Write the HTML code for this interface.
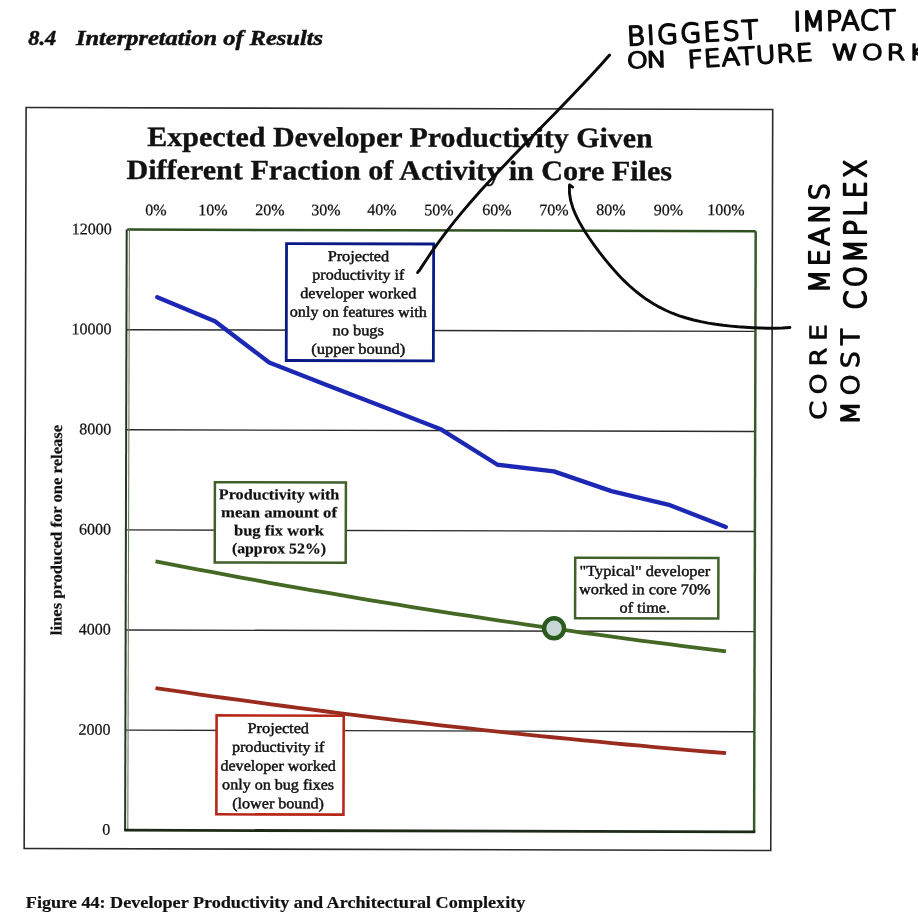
<!DOCTYPE html>
<html><head><meta charset="utf-8"><title>Figure 44: Developer Productivity and Architectural Complexity</title>
<style>
html,body{margin:0;padding:0;background:#fff;}
body{width:918px;height:917px;overflow:hidden;}
svg{display:block;filter:blur(0.4px);}
.serif{font-family:'Liberation Serif', 'Times New Roman', serif;}
.hand{font-family:'DejaVu Sans', 'Liberation Sans', sans-serif;font-weight:200;fill:#0a0a0a;stroke:#0a0a0a;stroke-width:2.1px;stroke-linejoin:round;stroke-linecap:round;}
.emb{stroke:#111;stroke-width:0.45px;}
.lab{stroke:#111;stroke-width:0.25px;}
.embh{stroke:#111;stroke-width:0.5px;}
.embb{stroke:#111;stroke-width:0.2px;}
.embt{stroke:#111;stroke-width:0.35px;}
</style></head><body>
<svg width="918" height="917" viewBox="0 0 918 917">
<rect x="0" y="0" width="918" height="917" fill="#fff"/>
<g class="serif embh" fill="#111" font-weight="bold" font-style="italic" font-size="21">
<text x="28.2" y="45" textLength="28" lengthAdjust="spacingAndGlyphs">8.4</text>
<text x="76" y="45" textLength="247" lengthAdjust="spacingAndGlyphs">Interpretation of Results</text>
</g>
<g transform="rotate(0.1501 400 530)">
<rect x="25.0" y="108.5" width="746.6" height="741" fill="none" stroke="#2a2a2a" stroke-width="1.6"/>
<g class="serif embt" fill="#111" font-weight="bold" font-size="28">
<text x="146.3" y="146.6" textLength="505.4" lengthAdjust="spacingAndGlyphs">Expected Developer Productivity Given</text>
<text x="125.5" y="179.7" textLength="545.6" lengthAdjust="spacingAndGlyphs">Different Fraction of Activity in Core Files</text>
</g>
<g class="serif lab" fill="#111" font-size="16" text-anchor="middle">
<text x="155.2" y="215.8">0%</text>
<text x="212.2" y="215.7">10%</text>
<text x="269.2" y="215.5">20%</text>
<text x="325.2" y="215.4">30%</text>
<text x="381.2" y="215.2">40%</text>
<text x="438.2" y="215.1">50%</text>
<text x="496.2" y="214.9">60%</text>
<text x="553.2" y="214.8">70%</text>
<text x="610.2" y="214.6">80%</text>
<text x="667.7" y="214.5">90%</text>
<text x="725.2" y="214.3">100%</text>
</g>
<g class="serif lab" fill="#111" font-size="16" text-anchor="end">
<text x="111" y="835.6">0</text>
<text x="111" y="735.5">2000</text>
<text x="111" y="635.4">4000</text>
<text x="111" y="535.3">6000</text>
<text x="111" y="435.2">8000</text>
<text x="111" y="335.1">10000</text>
<text x="111" y="235.0">12000</text>
</g>
<text class="serif embb" fill="#111" font-weight="bold" font-size="16" transform="translate(61.8 636.1) rotate(-90)" textLength="210.4" lengthAdjust="spacingAndGlyphs">lines produced for one release</text>
<g stroke="#2c2c2c" stroke-width="1.4">
<line x1="126.4" y1="730.8" x2="754.9" y2="730.8"/>
<line x1="126.4" y1="630.7" x2="754.9" y2="630.7"/>
<line x1="126.4" y1="530.6" x2="754.9" y2="530.6"/>
<line x1="126.4" y1="430.5" x2="754.9" y2="430.5"/>
<line x1="126.4" y1="330.4" x2="754.9" y2="330.4"/>
</g>
<line x1="126.4" y1="230.3" x2="754.9" y2="230.3" stroke="#2f5020" stroke-width="2.5"/>
<line x1="754.9" y1="230.3" x2="754.9" y2="830.9" stroke="#385a28" stroke-width="2.5"/>
<line x1="125.9" y1="230.3" x2="125.9" y2="830.9" stroke="#243824" stroke-width="2"/>
<line x1="128.6" y1="230.3" x2="128.6" y2="830.9" stroke="#6a7f60" stroke-width="1.1"/>
<line x1="124.9" y1="830.9" x2="756.1" y2="830.9" stroke="#1e2a18" stroke-width="2.8"/>
<polyline points="156.7,297.8 214.4,321.7 268.7,362.8 325.6,385.0 382.7,406.9 441.1,429.5 497.4,464.5 553.7,471.0 611.3,490.6 670.0,504.5 725.8,526.2" fill="none" stroke="#1c28b4" stroke-width="4.3" stroke-linejoin="round" stroke-linecap="round"/>
<polyline points="155.6,562.0 169.9,564.7 184.1,567.4 198.4,570.1 212.7,572.7 226.9,575.4 241.2,578.0 255.5,580.5 269.7,583.1 284.0,585.6 298.3,588.1 312.5,590.5 326.8,592.9 341.1,595.4 355.3,597.7 369.6,600.1 383.9,602.4 398.1,604.7 412.4,607.0 426.7,609.2 441.0,611.5 455.2,613.7 469.5,615.8 483.8,618.0 498.0,620.1 512.3,622.2 526.6,624.3 540.8,626.3 555.1,628.3 569.4,630.3 583.6,632.3 597.9,634.2 612.2,636.1 626.4,638.0 640.7,639.9 655.0,641.7 669.2,643.5 683.5,645.3 697.8,647.0 712.1,648.8 726.3,650.5" fill="none" stroke="#456824" stroke-width="3.8" stroke-linejoin="round" stroke-linecap="butt"/>
<polyline points="155.9,688.7 170.2,690.8 184.4,692.8 198.7,694.8 213.0,696.8 227.2,698.7 241.5,700.6 255.8,702.5 270.0,704.4 284.3,706.3 298.6,708.1 312.8,709.9 327.1,711.7 341.4,713.5 355.6,715.2 369.9,716.9 384.2,718.6 398.4,720.3 412.7,721.9 427.0,723.6 441.2,725.2 455.5,726.7 469.8,728.3 484.0,729.8 498.3,731.3 512.6,732.8 526.9,734.3 541.1,735.7 555.4,737.1 569.7,738.5 583.9,739.9 598.2,741.2 612.5,742.6 626.7,743.9 641.0,745.1 655.3,746.4 669.5,747.6 683.8,748.8 698.1,750.0 712.3,751.2 726.6,752.3" fill="none" stroke="#9a2b1f" stroke-width="3.8" stroke-linejoin="round" stroke-linecap="butt"/>
<circle cx="554.3" cy="627.9" r="10" fill="#c8d6d6" stroke="#2b5a1e" stroke-width="4.4"/>
<rect x="285.8" y="243.9" width="147.1" height="116.9" fill="#fff" stroke="#0a1a85" stroke-width="2.8"/>
<rect x="214.8" y="482.7" width="131.0" height="80.2" fill="#fff" stroke="#40602a" stroke-width="2.5"/>
<rect x="575.3" y="557.2" width="143.2" height="60.5" fill="#fff" stroke="#40602a" stroke-width="2.5"/>
<rect x="217.1" y="715.9" width="127.1" height="98.9" fill="#fff" stroke="#b82818" stroke-width="2.6"/>
<g class="serif emb" fill="#111" font-size="15" text-anchor="middle">
<text x="357.7" y="261.2" textLength="61.5" lengthAdjust="spacingAndGlyphs">Projected</text>
<text x="357.7" y="279.8" textLength="92" lengthAdjust="spacingAndGlyphs">productivity if</text>
<text x="357.7" y="298.3" textLength="116" lengthAdjust="spacingAndGlyphs">developer worked</text>
<text x="357.7" y="316.9" textLength="137" lengthAdjust="spacingAndGlyphs">only on features with</text>
<text x="357.7" y="335.4" textLength="51.5" lengthAdjust="spacingAndGlyphs">no bugs</text>
<text x="357.7" y="353.9" textLength="94" lengthAdjust="spacingAndGlyphs">(upper bound)</text>
</g>
<g class="serif embb" fill="#111" font-size="15" font-weight="bold" text-anchor="middle">
<text x="279.0" y="499.8" textLength="120.5" lengthAdjust="spacingAndGlyphs">Productivity with</text>
<text x="279.0" y="517.8" textLength="116" lengthAdjust="spacingAndGlyphs">mean amount of</text>
<text x="279.0" y="535.8" textLength="90" lengthAdjust="spacingAndGlyphs">bug fix work</text>
<text x="279.0" y="553.8" textLength="94" lengthAdjust="spacingAndGlyphs">(approx 52%)</text>
</g>
<g class="serif emb" fill="#111" font-size="15" text-anchor="middle">
<text x="645.0" y="575.3" textLength="130.8" lengthAdjust="spacingAndGlyphs">&quot;Typical&quot; developer</text>
<text x="645.0" y="593.6" textLength="131.5" lengthAdjust="spacingAndGlyphs">worked in core 70%</text>
<text x="645.0" y="611.9" textLength="50.5" lengthAdjust="spacingAndGlyphs">of time.</text>
</g>
<g class="serif emb" fill="#111" font-size="15" text-anchor="middle">
<text x="278.8" y="733.4" textLength="61.5" lengthAdjust="spacingAndGlyphs">Projected</text>
<text x="278.8" y="752.2" textLength="92.5" lengthAdjust="spacingAndGlyphs">productivity if</text>
<text x="278.8" y="771.0" textLength="115.4" lengthAdjust="spacingAndGlyphs">developer worked</text>
<text x="278.8" y="789.8" textLength="112" lengthAdjust="spacingAndGlyphs">only on bug fixes</text>
<text x="278.8" y="808.6" textLength="91.7" lengthAdjust="spacingAndGlyphs">(lower bound)</text>
</g>
</g>
<text class="serif embb" fill="#111" font-weight="bold" font-size="17" x="25.8" y="908.2" textLength="499.5" lengthAdjust="spacingAndGlyphs">Figure 44: Developer Productivity and Architectural Complexity</text>
<g fill="none" stroke="#0a0a0a" stroke-width="2.9" stroke-linecap="round" stroke-linejoin="round">
<path d="M417.6,272.6 Q418,271.2 419.1,270.8 C421.4,267.5 427.7,257.7 432.2,251.2 C436.7,244.7 441.5,238.1 446.5,231.6 C451.5,225.1 456.8,218.4 462.3,211.9 C467.8,205.4 473.5,198.8 479.3,192.3 C485.1,185.8 491.3,179.2 497.4,172.7 C503.5,166.2 509.8,159.6 516.1,153.1 C522.4,146.6 528.8,140.0 535.2,133.5 C541.6,127.0 548.0,120.5 554.4,113.9 C560.8,107.4 567.1,100.8 573.4,94.2 C579.7,87.7 586.0,81.1 592.0,74.6 C598.0,68.1 606.7,58.3 609.6,55.0"/>
<path d="M572.6,187.2 L569.6,184.9 L569.4,185.2 569.5,193.2 570.7,200.7 572.8,207.7 575.5,214.4 578.7,220.9 582.3,227.2 586.2,233.5 590.4,239.7 594.7,245.8 599.2,251.9 603.8,257.8 608.6,263.7 613.5,269.4 618.5,275.0 623.8,280.4 629.1,285.5 634.7,290.4 640.5,295.0 646.4,299.3 652.6,303.3 659.0,306.9 665.6,310.2 672.3,313.2 679.3,315.8 686.4,318.0 693.6,320.0 700.9,321.7 708.3,323.1 715.7,324.3 723.2,325.3 730.6,326.1 738.1,326.8 745.5,327.3 752.8,327.7 760.1,328.0 767.4,328.2 774.8,328.2 782.3,328.0 789.9,327.5"/>
</g>
<g class="hand" font-size="27">
<text transform="translate(627.5 45.5) rotate(-3.0) scale(1 0.964)" textLength="131.5" lengthAdjust="spacing">BIGGEST</text>
<text transform="translate(793.5 31.0) rotate(-1.0) scale(1 0.990)" textLength="102.5" lengthAdjust="spacing">IMPACT</text>
<text transform="translate(627.0 68.3) rotate(-2.0) scale(1 0.812)" textLength="40.0" lengthAdjust="spacing">ON</text>
<text transform="translate(688.0 68.0) rotate(-3.5) scale(1 0.888)" textLength="125.5" lengthAdjust="spacing">FEATURE</text>
<text transform="translate(831.5 59.5) rotate(0.0) scale(1 0.787)" textLength="95.0" lengthAdjust="spacing">WORK</text>
<text transform="translate(825.9 420.0) rotate(-90) scale(1 0.812)" textLength="96.0" lengthAdjust="spacing">CORE</text>
<text transform="translate(828.9 293.0) rotate(-90) scale(1 1.015)" textLength="110.0" lengthAdjust="spacing">MEANS</text>
<text transform="translate(859.4 424.7) rotate(-90) scale(1 0.888)" textLength="96.0" lengthAdjust="spacing">MOST</text>
<text transform="translate(865.9 309.5) rotate(-90) scale(1 1.117)" textLength="150.0" lengthAdjust="spacing">COMPLEX</text>
</g>
</svg>
</body></html>
